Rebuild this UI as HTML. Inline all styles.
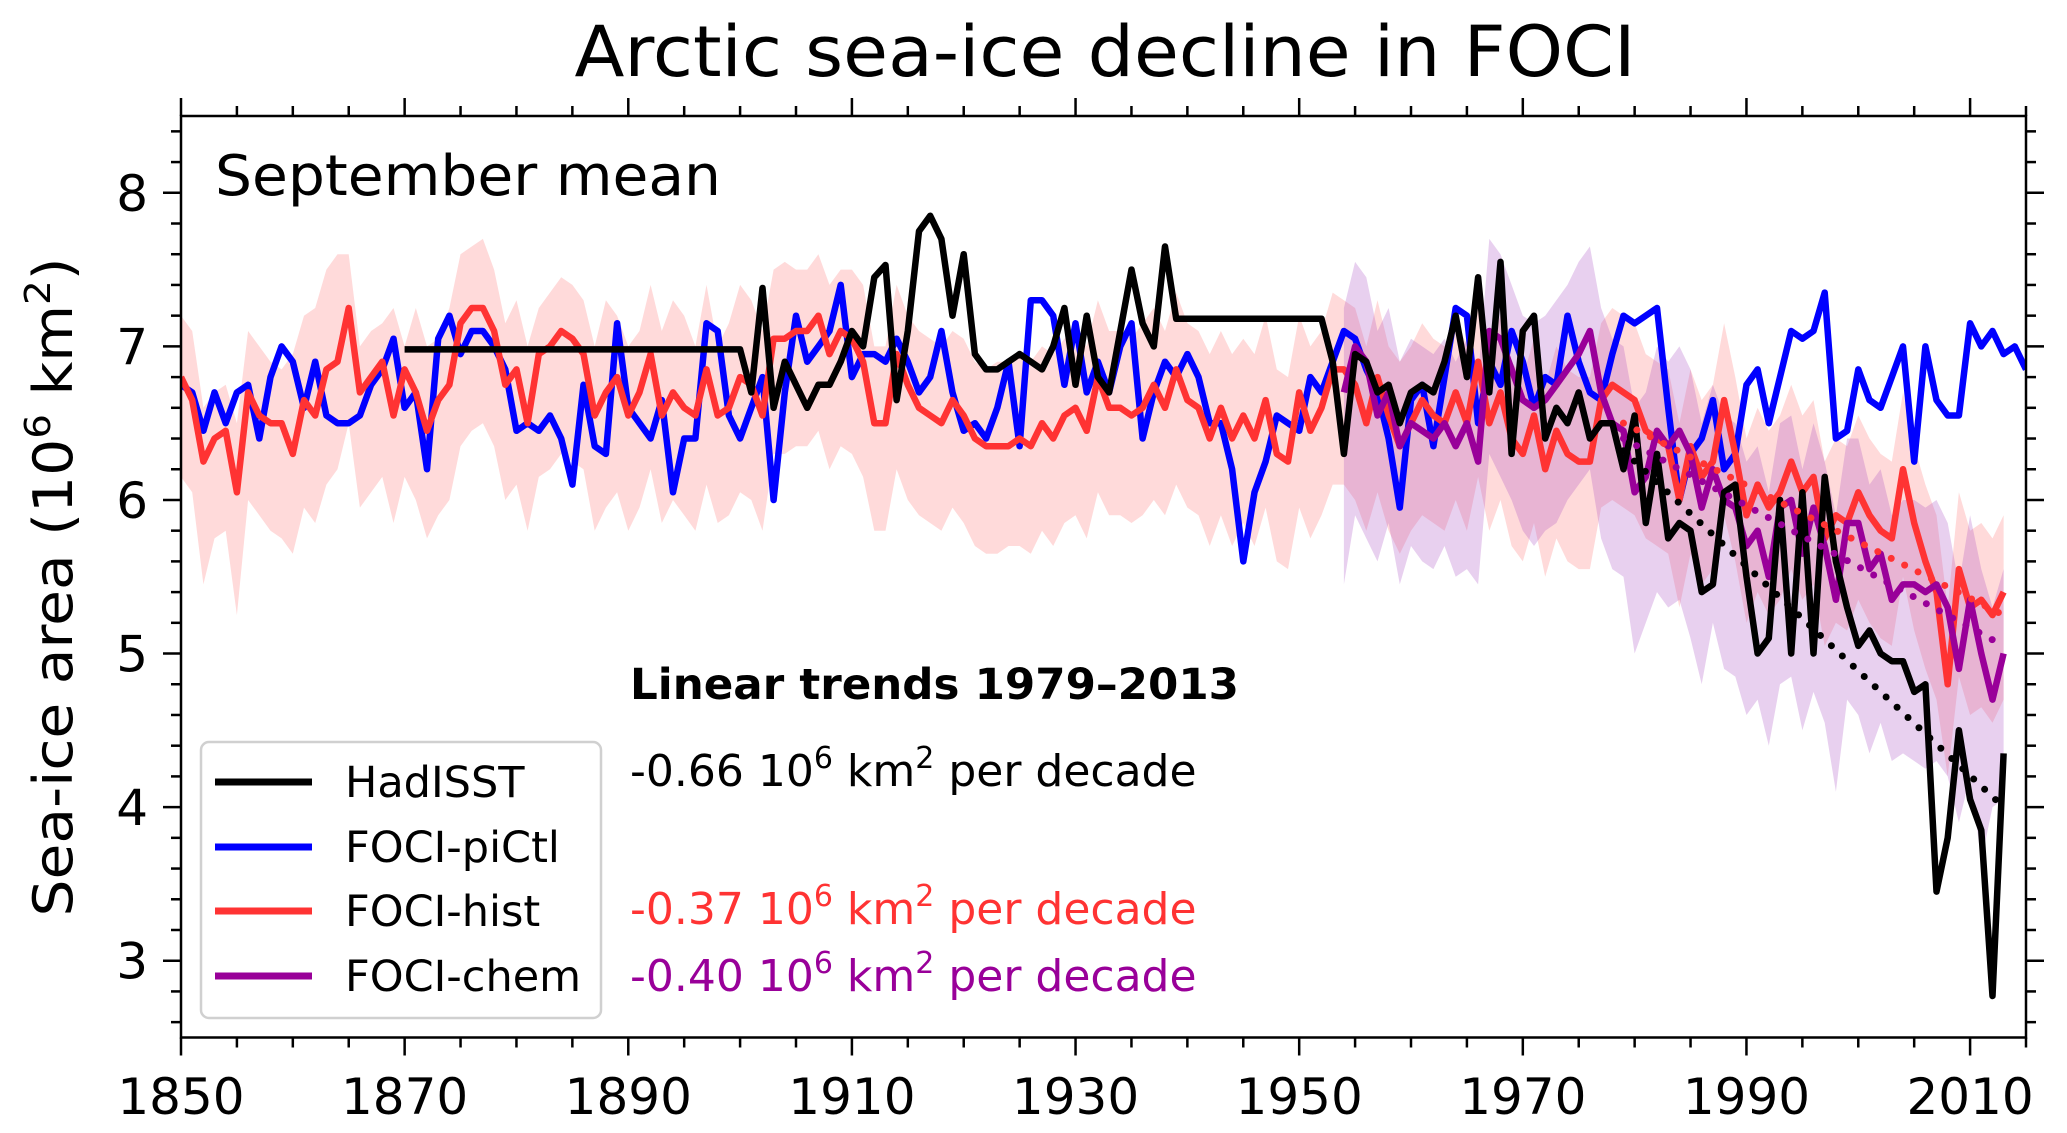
<!DOCTYPE html>
<html><head><meta charset="utf-8">
<style>
html,body{margin:0;padding:0;background:#fff;}
svg{display:block;font-family:"DejaVu Sans","Liberation Sans",sans-serif;}
</style></head>
<body>
<svg id="chart" width="2067" height="1133" viewBox="0 0 2067 1133" xmlns="http://www.w3.org/2000/svg">
<text x="1105" y="76" font-size="70" text-anchor="middle" textLength="1061" lengthAdjust="spacingAndGlyphs">Arctic sea-ice decline in FOCI</text>
<text transform="translate(72,587) rotate(-90)" font-size="54" text-anchor="middle" textLength="659" lengthAdjust="spacingAndGlyphs">Sea-ice area (10<tspan font-size="36" dy="-22">6</tspan><tspan dy="22"> km</tspan><tspan font-size="36" dy="-22">2</tspan><tspan dy="22">)</tspan></text>
<defs><clipPath id="plotclip"><rect x="181" y="116" width="1845" height="922"/></clipPath></defs>
<g id="bands" clip-path="url(#plotclip)"></g>
<g id="lines" clip-path="url(#plotclip)"></g>
<g id="axes"></g>
<text x="215" y="195" font-size="56" textLength="506" lengthAdjust="spacingAndGlyphs">September mean</text>
<text x="630" y="699" font-size="43" font-weight="bold" textLength="609" lengthAdjust="spacingAndGlyphs">Linear trends 1979–2013</text>
<text x="630" y="786" font-size="44" fill="#000">-0.66 10<tspan font-size="30" dy="-18">6</tspan><tspan dy="18"> km</tspan><tspan font-size="30" dy="-18">2</tspan><tspan dy="18"> per decade</tspan></text>
<text x="630" y="924" font-size="44" fill="#ff3333">-0.37 10<tspan font-size="30" dy="-18">6</tspan><tspan dy="18"> km</tspan><tspan font-size="30" dy="-18">2</tspan><tspan dy="18"> per decade</tspan></text>
<text x="630" y="991" font-size="44" fill="#990099">-0.40 10<tspan font-size="30" dy="-18">6</tspan><tspan dy="18"> km</tspan><tspan font-size="30" dy="-18">2</tspan><tspan dy="18"> per decade</tspan></text>
<g>
<rect x="201" y="742" width="400" height="276" rx="8" fill="#fff" fill-opacity="0.85" stroke="#d0d0d0" stroke-width="2.5"/>
<g><line x1="215" y1="782" x2="312" y2="782" stroke="#000" stroke-width="7"/><text x="345" y="797" font-size="43">HadISST</text></g>
<g><line x1="215" y1="847" x2="312" y2="847" stroke="#0000ff" stroke-width="7"/><text x="345" y="862" font-size="43">FOCI-piCtl</text></g>
<g><line x1="215" y1="911" x2="312" y2="911" stroke="#ff3333" stroke-width="7"/><text x="345" y="926" font-size="43">FOCI-hist</text></g>
<g><line x1="215" y1="976" x2="312" y2="976" stroke="#990099" stroke-width="7"/><text x="345" y="991" font-size="43">FOCI-chem</text></g>
</g>
</svg>
<script>
const hadStart = 1870;
const hadisst = [6.98,6.98,6.98,6.98,6.98,6.98,6.98,6.98,6.98,6.98,6.98,6.98,6.98,6.98,6.98,6.98,6.98,6.98,6.98,6.98,6.98,6.98,6.98,6.98,6.98,6.98,6.98,6.98,6.98,6.98,6.98,
6.7,7.38,6.6,6.9,6.75,6.6,6.75,6.75,6.9,7.1,7.0,7.45,7.53,6.65,7.1,7.75,7.85,7.7,7.2,7.6,6.95,6.85,6.85,6.9,6.95,6.9,6.85,7.0,7.25,6.75,7.2,6.8,6.7,7.1,7.5,7.15,7.0,7.65,
7.18,7.18,7.18,7.18,7.18,7.18,7.18,7.18,7.18,7.18,7.18,7.18,7.18,7.18,
6.9,6.3,6.95,6.9,6.7,6.75,6.5,6.7,6.75,6.7,6.9,7.2,6.8,7.45,6.7,7.55,6.3,7.1,7.2,6.4,6.6,6.5,6.7,6.4,6.5,6.5,6.2,6.55,5.85,6.3,5.75,5.85,5.8,5.4,5.45,6.05,6.1,5.5,5.0,5.1,6.0,5.0,6.05,5.0,6.15,5.6,5.3,5.05,5.15,5.0,4.95,4.95,4.75,4.8,3.45,3.8,4.5,4.05,3.85,2.77,4.35];
const ctlStart = 1850;
const picontrol = [6.75,6.7,6.45,6.7,6.5,6.7,6.75,6.4,6.8,7.0,6.9,6.6,6.9,6.55,6.5,6.5,6.55,6.75,6.85,7.05,6.6,6.7,6.2,7.05,7.2,6.95,7.1,7.1,7.0,6.85,6.45,6.5,6.45,6.55,6.4,6.1,6.75,6.35,6.3,7.15,6.6,6.5,6.4,6.65,6.05,6.4,6.4,7.15,7.1,6.55,6.4,6.6,6.8,6.0,6.7,7.2,6.9,7.0,7.1,7.4,6.8,6.95,6.95,6.9,7.05,6.9,6.7,6.8,7.1,6.7,6.45,6.5,6.4,6.6,6.9,6.35,7.3,7.3,7.2,6.75,7.15,6.7,6.9,6.7,7.0,7.15,6.4,6.7,6.9,6.8,6.95,6.8,6.5,6.5,6.2,5.6,6.05,6.25,6.55,6.5,6.45,6.8,6.7,6.9,7.1,7.05,6.85,6.7,6.4,5.95,6.65,6.75,6.35,6.8,7.25,7.2,6.5,6.9,6.75,7.1,6.9,6.6,6.8,6.75,7.2,6.9,6.7,6.65,6.95,7.2,7.15,7.2,7.25,6.6,6.0,6.3,6.4,6.65,6.2,6.3,6.75,6.85,6.5,6.8,7.1,7.05,7.1,7.35,6.4,6.45,6.85,6.65,6.6,6.8,7.0,6.25,7.0,6.65,6.55,6.55,7.15,7.0,7.1,6.95,7.0,6.85];
const histStart = 1850;
const hist = [6.8,6.65,6.25,6.4,6.45,6.05,6.7,6.55,6.5,6.5,6.3,6.65,6.55,6.85,6.9,7.25,6.7,6.8,6.9,6.55,6.85,6.7,6.45,6.65,6.75,7.15,7.25,7.25,7.1,6.75,6.85,6.5,6.95,7.0,7.1,7.05,6.95,6.55,6.7,6.8,6.55,6.7,6.95,6.55,6.7,6.6,6.55,6.85,6.55,6.6,6.8,6.75,6.55,7.05,7.05,7.1,7.1,7.2,6.95,7.1,7.05,6.9,6.5,6.5,6.95,6.75,6.6,6.55,6.5,6.65,6.55,6.4,6.35,6.35,6.35,6.4,6.35,6.5,6.4,6.55,6.6,6.45,6.8,6.6,6.6,6.55,6.6,6.75,6.6,6.85,6.65,6.6,6.4,6.6,6.4,6.55,6.4,6.65,6.3,6.25,6.7,6.45,6.6,6.85,6.85,6.75,6.5,6.8,6.55,6.35,6.5,6.65,6.55,6.5,6.7,6.5,6.9,6.5,6.7,6.4,6.3,6.55,6.2,6.45,6.3,6.25,6.25,6.65,6.75,6.7,6.65,6.45,6.4,6.35,6.0,6.35,6.15,6.25,6.65,6.3,5.9,6.1,5.95,6.05,6.25,6.05,6.15,5.75,5.9,5.85,6.05,5.9,5.8,5.75,6.2,5.85,5.6,5.4,4.8,5.55,5.3,5.35,5.25,5.4];
const histUpper = [7.2,7.1,6.6,6.7,6.75,6.5,7.1,7.0,6.9,6.85,6.95,7.2,7.25,7.5,7.6,7.6,7.0,7.1,7.15,7.25,7.0,7.25,7.0,7.05,7.25,7.6,7.65,7.7,7.5,7.15,7.3,7.0,7.25,7.35,7.45,7.4,7.3,7.0,7.3,7.2,7.0,7.1,7.4,7.1,7.3,7.2,7.0,7.4,7.0,7.15,7.4,7.3,7.1,7.5,7.55,7.5,7.5,7.6,7.4,7.5,7.5,7.4,7.0,7.0,7.4,7.2,7.1,7.05,7.0,7.1,7.05,6.9,6.85,6.9,6.9,6.95,6.9,7.0,6.95,7.05,7.1,7.0,7.3,7.1,7.1,7.05,7.15,7.25,7.1,7.35,7.15,7.1,6.95,7.1,6.95,7.05,6.95,7.2,6.85,6.8,7.2,7.0,7.1,7.35,7.3,7.25,7.0,7.3,7.0,6.9,7.0,7.15,7.05,7.0,7.2,7.0,7.4,7.0,7.2,6.9,6.8,7.05,6.75,7.0,6.85,6.8,6.8,7.15,7.25,7.2,7.15,6.95,6.9,6.85,6.5,6.85,6.65,6.75,7.15,6.8,6.4,6.6,6.45,6.55,6.75,6.55,6.65,6.25,6.4,6.35,6.55,6.4,6.3,6.25,6.7,6.35,6.1,5.9,5.3,6.05,5.8,5.85,5.75,5.9];
const histLower = [6.15,6.05,5.45,5.75,5.8,5.25,6.0,5.9,5.8,5.75,5.65,5.95,5.85,6.1,6.2,6.5,5.95,6.05,6.15,5.85,6.15,6.0,5.75,5.9,6.0,6.35,6.45,6.5,6.35,6.0,6.1,5.8,6.15,6.2,6.3,6.25,6.2,5.8,5.95,6.05,5.8,5.95,6.2,5.85,6.0,5.9,5.8,6.1,5.85,5.9,6.05,6.0,5.8,6.3,6.3,6.35,6.35,6.45,6.2,6.35,6.3,6.15,5.8,5.8,6.2,6.0,5.9,5.85,5.8,5.95,5.85,5.7,5.65,5.65,5.7,5.7,5.65,5.8,5.7,5.85,5.9,5.75,6.05,5.9,5.9,5.85,5.9,6.0,5.9,6.1,5.95,5.9,5.7,5.9,5.7,5.85,5.7,5.95,5.6,5.55,5.95,5.75,5.9,6.1,6.1,6.0,5.8,6.05,5.8,5.65,5.8,5.9,5.85,5.8,6.0,5.8,6.15,5.8,6.0,5.7,5.6,5.85,5.5,5.75,5.6,5.55,5.55,5.95,6.0,5.95,5.9,5.75,5.7,5.65,5.3,5.65,5.45,5.55,5.9,5.6,5.2,5.4,5.25,5.35,5.55,5.35,5.45,5.05,5.2,5.15,5.35,5.2,5.1,5.05,5.5,5.15,4.9,4.7,4.2,4.85,4.6,4.65,4.55,4.7];
const chemStart = 1954;
const chem = [6.7,7.0,6.9,6.55,6.7,6.35,6.5,6.45,6.4,6.5,6.35,6.5,6.25,7.1,7.05,6.85,6.65,6.6,6.65,6.75,6.85,6.95,7.1,6.7,6.5,6.45,6.05,6.15,6.45,6.35,6.45,6.3,5.95,6.2,6.0,5.95,5.7,5.8,5.5,5.95,6.0,5.65,5.95,5.7,5.35,5.85,5.85,5.55,5.65,5.35,5.45,5.45,5.4,5.45,5.3,4.9,5.35,5.0,4.7,5.0];
const chemUpper = [7.25,7.55,7.45,7.1,7.25,6.9,7.05,7.0,6.95,7.05,6.9,7.05,6.8,7.7,7.6,7.4,7.2,7.15,7.2,7.3,7.4,7.55,7.65,7.25,7.05,7.0,6.6,6.7,7.0,6.9,7.0,6.85,6.5,6.75,6.55,6.5,6.25,6.35,6.05,6.5,6.55,6.2,6.5,6.25,5.9,6.4,6.4,6.1,6.2,5.9,6.0,6.0,5.95,6.0,5.85,5.45,5.9,5.55,5.3,5.55];
const chemLower = [5.45,5.9,5.75,5.6,5.85,5.45,5.7,5.6,5.55,5.7,5.5,5.55,5.45,6.3,6.15,6.0,5.8,5.7,5.8,5.85,6.0,6.1,6.2,5.75,5.55,5.5,5.0,5.2,5.4,5.3,5.35,5.1,4.8,5.2,4.9,4.85,4.6,4.7,4.4,4.8,4.85,4.5,4.75,4.55,4.1,4.7,4.6,4.35,4.55,4.3,4.35,4.3,4.25,4.3,4.2,3.9,4.2,3.65,4.0,4.05];
const trendNames = ['hadisst','hist','chem'];
const trendStartYear = [1979,1979,1979];
const trendEndYear = [2013,2013,2013];
const trendStartValue = [6.32,6.5,6.4];
const trendEndValue = [4.0,5.25,5.05];
const xMajorTicks = [1850,1870,1890,1910,1930,1950,1970,1990,2010];
const yMajorTicks = [3,4,5,6,7,8];

const NS = 'http://www.w3.org/2000/svg';
const L = 181, R = 2026, T = 116, B = 1037.5;
const X0 = 1850, X1 = 2015, Y0 = 2.5, Y1 = 8.5;
function xs(v){ return L + (v - X0) / (X1 - X0) * (R - L); }
function ys(v){ return B - (v - Y0) / (Y1 - Y0) * (B - T); }
function mk(tag, attrs, parent){
  const e = document.createElementNS(NS, tag);
  for (const k in attrs) e.setAttribute(k, attrs[k]);
  parent.appendChild(e);
  return e;
}
const bands = document.getElementById('bands');
const lines = document.getElementById('lines');
const axes = document.getElementById('axes');

function bandPath(start, up, lo){
  let d = '';
  up.forEach((v,i)=>{ d += (i? 'L':'M') + xs(start+i).toFixed(1) + ',' + ys(v).toFixed(1); });
  for (let i = lo.length-1; i >= 0; i--) d += 'L' + xs(start+i).toFixed(1) + ',' + ys(lo[i]).toFixed(1);
  return d + 'Z';
}
function linePath(start, vals){
  return vals.map((v,i)=>(i?'L':'M') + xs(start+i).toFixed(1) + ',' + ys(v).toFixed(1)).join('');
}
const hb = mk('path', {d: bandPath(histStart, histUpper, histLower), fill: 'rgba(255,70,70,0.2)', stroke: 'none'}, bands);


const cb = mk('path', {d: bandPath(chemStart, chemUpper, chemLower), fill: 'rgba(160,60,190,0.24)', stroke: 'none'}, bands);



const series = [
  [ctlStart, picontrol, '#0000ff', 'picontrol-line'],
  [histStart, hist, '#ff3333', 'hist-line'],
  [chemStart, chem, '#990099', 'chem-line'],
  [hadStart, hadisst, '#000000', 'hadisst-line']
];
series.forEach(s=>{
  const p = mk('path', {d: linePath(s[0], s[1]), fill: 'none', stroke: s[2], 'stroke-width': 6.5, 'stroke-linejoin': 'round'}, lines);
  
  
});
const trendColors = ['#000000','#ff3333','#990099'];
trendNames.forEach((n,i)=>{
  const t = mk('line', {x1: xs(trendStartYear[i]), y1: ys(trendStartValue[i]), x2: xs(trendEndYear[i]), y2: ys(trendEndValue[i]), stroke: trendColors[i], 'stroke-width': 7, 'stroke-dasharray': '0 15', 'stroke-linecap': 'round'}, lines);
  
  
});

const fr = mk('rect', {x: L, y: T, width: R-L, height: B-T, fill: 'none', stroke: '#000', 'stroke-width': 2.5}, axes);


for (let yr = 1850; yr <= 2015; yr += 5){
  const major = xMajorTicks.includes(yr);
  const len = major ? 18 : 10;
  const x = xs(yr);
  const t1 = mk('line', {x1:x, y1:B, x2:x, y2:B+len, stroke:'#000', 'stroke-width':2.5}, axes);
  
  
  const t2 = mk('line', {x1:x, y1:T, x2:x, y2:T-len, stroke:'#000', 'stroke-width':2.5}, axes);
  
  
}
xMajorTicks.forEach(yr=>{
  const t = mk('text', {x: xs(yr), y: 1114, 'font-size': 50, 'text-anchor': 'middle'}, axes);
  t.textContent = yr;
  
  
});
for (let k = 13; k <= 42; k++){
  const v = k / 5;
  const major = k % 5 === 0;
  const len = major ? 18 : 10;
  const y = ys(v);
  const t1 = mk('line', {x1:L, y1:y, x2:L-len, y2:y, stroke:'#000', 'stroke-width':2.5}, axes);
  
  
  const t2 = mk('line', {x1:R, y1:y, x2:R+len, y2:y, stroke:'#000', 'stroke-width':2.5}, axes);
  
  
}
yMajorTicks.forEach(v=>{
  const t = mk('text', {x: 148, y: ys(v) + 18, 'font-size': 50, 'text-anchor': 'end'}, axes);
  t.textContent = v;
  
  
});
</script>
</body></html>
